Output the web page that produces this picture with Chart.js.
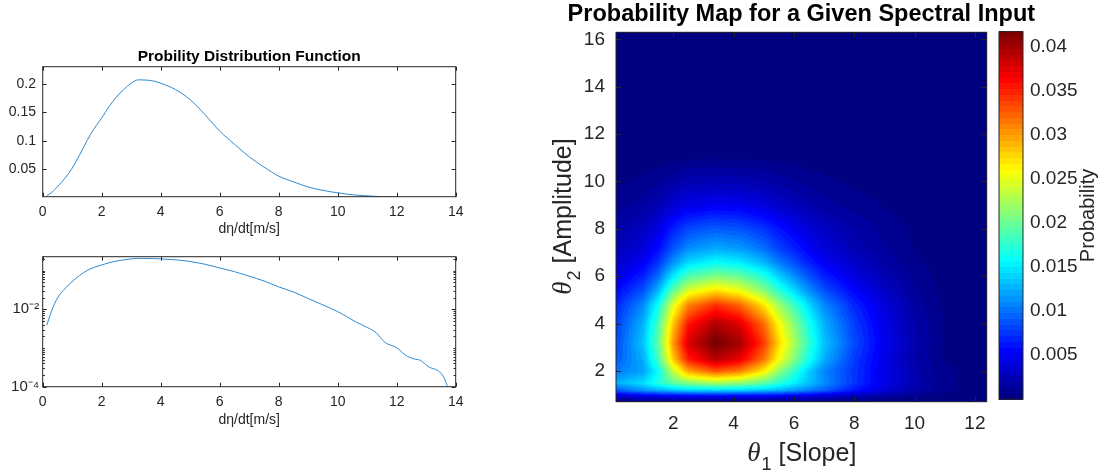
<!DOCTYPE html>
<html>
<head>
<meta charset="utf-8">
<script src="https://cdn.jsdelivr.net/npm/chart.js@4.4.0/dist/chart.umd.min.js"></script>
<style>
  body { margin: 0; background: #fff; width: 1114px; height: 473px; overflow: hidden; position: relative; }
  canvas { position: absolute; }
</style>
</head>
<body>
<canvas id="pdfChart" width="498" height="245" style="left:0;top:0"></canvas>
<canvas id="logChart" width="498" height="233" style="left:0;top:240px"></canvas>
<canvas id="mapChart" width="563" height="473" style="left:520px;top:0"></canvas>
<canvas id="barChart" width="124" height="473" style="left:990px;top:0"></canvas>
<script>
// PDF of d(eta)/dt
const pdfSpeed = [0.14, 0.3, 0.5, 0.75, 1.0, 1.25, 1.5, 1.75, 2.0, 2.25, 2.5, 2.75, 3.0, 3.25, 3.5, 3.75, 4.0, 4.5, 5.0, 5.5, 6.0, 6.5, 7.0, 7.5, 8.0, 8.5, 9.0, 9.5, 10.0, 10.3, 10.6, 11.0, 11.3, 11.6, 12.0, 12.3, 12.6, 12.8, 13.1, 13.4, 13.6, 13.72];
const pdfValues = [0.0039, 0.009, 0.0195, 0.034, 0.052, 0.075, 0.100, 0.122, 0.140, 0.160, 0.177, 0.190, 0.201, 0.207, 0.2065, 0.205, 0.201, 0.190, 0.172, 0.146, 0.117, 0.094, 0.072, 0.054, 0.038, 0.028, 0.019, 0.013, 0.0087, 0.0065, 0.0048, 0.0034, 0.0025, 0.0014, 0.00102, 0.00065, 0.00052, 0.00048, 0.00032, 0.00026, 0.000174, 0.0001];
const pdfXTicks = [0, 2, 4, 6, 8, 10, 12, 14];
const pdfYTicks = [0.05, 0.1, 0.15, 0.2];
const logYTicks = [1e-4, 1e-2];
const logYTickLabels = ['10⁻⁴', '10⁻²'];

// probability map: rows = theta2 (amplitude), columns = theta1 (slope)
const thetaSlope = [0.1, 1, 1.5, 2, 2.5, 3.4, 4.2, 5, 5.5, 6, 6.5, 7, 8, 9, 10, 11, 12.4];
const thetaAmp = [0.7, 0.95, 1.2, 1.5, 2, 2.5, 3.2, 4, 4.8, 5.4, 6, 6.6, 7.2, 8, 9, 10, 11, 12.5, 16.3];
const probMap = [
  [0.0001, 0.0002, 0.0002, 0.0003, 0.0003, 0.0003, 0.0003, 0.0003, 0.0003, 0.0003, 0.0003, 0.0002, 0.0002, 0.0001, 0.0001, 0, 0],
  [0.0035, 0.0042, 0.0045, 0.0048, 0.0050, 0.0050, 0.0050, 0.0048, 0.0046, 0.0043, 0.0039, 0.0034, 0.0024, 0.0015, 0.0008, 0.0003, 0.0001],
  [0.0090, 0.0115, 0.0125, 0.0135, 0.0140, 0.0143, 0.0140, 0.0135, 0.0128, 0.0118, 0.0106, 0.0093, 0.0062, 0.0038, 0.0020, 0.0008, 0.0002],
  [0.0125, 0.0145, 0.0170, 0.0195, 0.0210, 0.0223, 0.0215, 0.0195, 0.0173, 0.0153, 0.0132, 0.0112, 0.0075, 0.0045, 0.0022, 0.0008, 0.0002],
  [0.0104, 0.0120, 0.0160, 0.0236, 0.0295, 0.0328, 0.0311, 0.0266, 0.0216, 0.0177, 0.0138, 0.0108, 0.0075, 0.0045, 0.0022, 0.0008, 0.0002],
  [0.0090, 0.0125, 0.0184, 0.0281, 0.0352, 0.0391, 0.0371, 0.0316, 0.0258, 0.0211, 0.0164, 0.0125, 0.0078, 0.0045, 0.0020, 0.0006, 0.0001],
  [0.0084, 0.0134, 0.0197, 0.0302, 0.0378, 0.0420, 0.0399, 0.0340, 0.0277, 0.0227, 0.0176, 0.0134, 0.0084, 0.0048, 0.0021, 0.0006, 0.0001],
  [0.0079, 0.0126, 0.0186, 0.0284, 0.0355, 0.0395, 0.0375, 0.0320, 0.0261, 0.0213, 0.0166, 0.0126, 0.0079, 0.0045, 0.0020, 0.0006, 0.0001],
  [0.0069, 0.0110, 0.0162, 0.0248, 0.0310, 0.0344, 0.0322, 0.0270, 0.0220, 0.0182, 0.0143, 0.0110, 0.0069, 0.0040, 0.0017, 0.0005, 0],
  [0.0055, 0.0087, 0.0128, 0.0197, 0.0246, 0.0273, 0.0255, 0.0213, 0.0174, 0.0144, 0.0113, 0.0087, 0.0055, 0.0031, 0.0014, 0.0004, 0],
  [0.0042, 0.0067, 0.0099, 0.0151, 0.0189, 0.0210, 0.0200, 0.0170, 0.0139, 0.0113, 0.0088, 0.0067, 0.0042, 0.0024, 0.0011, 0.0003, 0],
  [0.0032, 0.0050, 0.0074, 0.0113, 0.0142, 0.0158, 0.0150, 0.0128, 0.0104, 0.0085, 0.0066, 0.0050, 0.0032, 0.0018, 0.0008, 0.0002, 0],
  [0.0024, 0.0039, 0.0057, 0.0088, 0.0110, 0.0122, 0.0116, 0.0099, 0.0080, 0.0066, 0.0051, 0.0039, 0.0024, 0.0014, 0.0006, 0.0002, 0],
  [0.0019, 0.0030, 0.0043, 0.0067, 0.0083, 0.0092, 0.0088, 0.0075, 0.0061, 0.0050, 0.0039, 0.0030, 0.0019, 0.0011, 0.0005, 0.0001, 0],
  [0.0010, 0.0016, 0.0024, 0.0036, 0.0045, 0.0050, 0.0048, 0.0041, 0.0033, 0.0027, 0.0021, 0.0016, 0.0010, 0.0006, 0.0003, 0.0001, 0],
  [0.0005, 0.0008, 0.0012, 0.0018, 0.0023, 0.0025, 0.0024, 0.0020, 0.0017, 0.0014, 0.0011, 0.0008, 0.0005, 0.0003, 0.0001, 0, 0],
  [0.0001, 0.0002, 0.0003, 0.0004, 0.0005, 0.0006, 0.0005, 0.0005, 0.0004, 0.0003, 0.0002, 0.0002, 0.0001, 0, 0, 0, 0],
  [0, 0, 0, 0.0001, 0.0001, 0.0001, 0.0001, 0.0001, 0.0001, 0, 0, 0, 0, 0, 0, 0, 0],
  [0, 0, 0, 0, 0, 0, 0, 0, 0, 0, 0, 0, 0, 0, 0, 0, 0]
];
const mapXTicks = [2, 4, 6, 8, 10, 12];
const mapYTicks = [2, 4, 6, 8, 10, 12, 14, 16];
const colorbarTicks = [0.005, 0.01, 0.015, 0.02, 0.025, 0.03, 0.035, 0.04];
const colorRange = [0, 0.0417];

const FONT = '"Liberation Sans", Arial, Helvetica, sans-serif';
Chart.defaults.font.family = FONT;
Chart.defaults.color = '#262626';
Chart.defaults.animation = false;

function fixTicks(values) {
    return function(scale) {
        scale.ticks = values.map(v => ({ value: v }));
    };
}

// matlab jet, 64 levels
function jet(t) {
    let k = Math.max(0, Math.min(63, Math.floor(t * 64)));
    let u = k / 63;
    let c = v => Math.round(255 * Math.max(0, Math.min(1, v)));
    return [c(1.5 - Math.abs(4 * u - 3)), c(1.5 - Math.abs(4 * u - 2)), c(1.5 - Math.abs(4 * u - 1))];
}

function locate(arr, v) {
    if (v <= arr[0]) return [0, 0];
    for (let i = 0; i < arr.length - 1; i++) {
        if (v <= arr[i + 1]) return [i, (v - arr[i]) / (arr[i + 1] - arr[i])];
    }
    return [arr.length - 2, 1];
}

// box round the axes with inward ticks on all four sides
const boxPlugin = {
    id: 'matlabBox',
    afterDatasetsDraw(chart, args, opts) {
        let ctx = chart.ctx, a = chart.chartArea;
        let L = opts.tickLen || 4;
        ctx.save();
        ctx.strokeStyle = '#262626';
        ctx.lineWidth = 1;
        ctx.beginPath();
        if (opts.xTicks !== false) {
            chart.scales.x.ticks.forEach(t => {
                let p = Math.round(chart.scales.x.getPixelForValue(t.value)) + 0.5;
                ctx.moveTo(p, a.bottom); ctx.lineTo(p, a.bottom - L);
                ctx.moveTo(p, a.top); ctx.lineTo(p, a.top + L);
            });
        }
        if (opts.yTicks !== false) {
            let ys = chart.scales.y.ticks.map(t => [t.value, L]);
            (opts.minorY || []).forEach(v => ys.push([v, L * 0.55]));
            ys.forEach(([v, l]) => {
                let p = Math.round(chart.scales.y.getPixelForValue(v)) + 0.5;
                ctx.moveTo(a.left, p); ctx.lineTo(a.left + l, p);
                ctx.moveTo(a.right, p); ctx.lineTo(a.right - l, p);
            });
        }
        ctx.stroke();
        ctx.strokeRect(a.left, a.top, a.width, a.height);
        ctx.restore();
    }
};

// title centred over the axes box
const titlePlugin = {
    id: 'panelTitle',
    afterDraw(chart, args, opts) {
        let ctx = chart.ctx, a = chart.chartArea;
        ctx.save();
        ctx.font = 'bold ' + opts.size + 'px ' + FONT;
        ctx.fillStyle = '#000';
        ctx.textAlign = 'center';
        ctx.textBaseline = 'middle';
        ctx.fillText(opts.text, (a.left + a.right) / 2, opts.y);
        ctx.restore();
    }
};

const heatmapPlugin = {
    id: 'heatmap',
    beforeDatasetsDraw(chart) {
        let ctx = chart.ctx, a = chart.chartArea;
        let xs = chart.scales.x, ys = chart.scales.y;
        let w = Math.round(a.width), h = Math.round(a.height);
        let off = document.createElement('canvas');
        off.width = w; off.height = h;
        let octx = off.getContext('2d');
        let img = octx.createImageData(w, h);
        let cols = [];
        for (let c = 0; c < w; c++) cols.push(locate(thetaSlope, xs.getValueForPixel(a.left + c + 0.5)));
        for (let r = 0; r < h; r++) {
            let [j, fy] = locate(thetaAmp, ys.getValueForPixel(a.top + r + 0.5));
            let row0 = probMap[j], row1 = probMap[j + 1];
            for (let c = 0; c < w; c++) {
                let [i, fx] = cols[c];
                let v0 = row0[i] * (1 - fx) + row0[i + 1] * fx;
                let v1 = row1[i] * (1 - fx) + row1[i + 1] * fx;
                let v = v0 * (1 - fy) + v1 * fy;
                let rgb = jet((v - colorRange[0]) / (colorRange[1] - colorRange[0]));
                let k = (r * w + c) * 4;
                img.data[k] = rgb[0]; img.data[k + 1] = rgb[1]; img.data[k + 2] = rgb[2]; img.data[k + 3] = 255;
            }
        }
        octx.putImageData(img, 0, 0);
        ctx.drawImage(off, a.left, a.top, a.width, a.height);
    }
};

function drawThetaLabel(ctx, sub, rest, cx, cy, rotate) {
    ctx.save();
    ctx.translate(cx, cy);
    if (rotate) ctx.rotate(-Math.PI / 2);
    ctx.fillStyle = '#262626';
    ctx.textBaseline = 'alphabetic';
    ctx.textAlign = 'left';
    let fT = 'italic 27px "Liberation Serif", serif';
    let fS = '18px ' + FONT;
    let fR = '25px ' + FONT;
    ctx.font = fT; let wT = ctx.measureText('θ').width;
    ctx.font = fS; let wS = ctx.measureText(sub).width;
    ctx.font = fR; let wR = ctx.measureText(rest).width;
    let x = -(wT + wS + wR) / 2, base = 9;
    ctx.font = fT; ctx.fillText('θ', x, base);
    ctx.font = fS; ctx.fillText(sub, x + wT + 1, base + 9);
    ctx.font = fR; ctx.fillText(rest, x + wT + wS + 1, base);
    ctx.restore();
}

const mapLabelPlugin = {
    id: 'mapLabels',
    afterDraw(chart) {
        let a = chart.chartArea;
        drawThetaLabel(chart.ctx, '1', ' [Slope]', (a.left + a.right) / 2, 452, false);
        drawThetaLabel(chart.ctx, '2', ' [Amplitude]', 42, (a.top + a.bottom) / 2, true);
    }
};

const colorbarPlugin = {
    id: 'colorbar',
    beforeDatasetsDraw(chart) {
        let ctx = chart.ctx, a = chart.chartArea, y = chart.scales.y;
        for (let r = Math.floor(a.top); r < Math.ceil(a.bottom); r++) {
            let v = y.getValueForPixel(r + 0.5);
            let rgb = jet((v - colorRange[0]) / (colorRange[1] - colorRange[0]));
            ctx.fillStyle = 'rgb(' + rgb.join(',') + ')';
            ctx.fillRect(a.left, r, a.width, 1);
        }
    },
    afterDraw(chart) {
        let ctx = chart.ctx;
        ctx.save();
        ctx.translate(98, (chart.chartArea.top + chart.chartArea.bottom) / 2);
        ctx.rotate(-Math.PI / 2);
        ctx.font = '20px ' + FONT;
        ctx.fillStyle = '#262626';
        ctx.textAlign = 'center';
        ctx.textBaseline = 'middle';
        ctx.fillText('Probability', 0, 0);
        ctx.restore();
    }
};

const pdfPoints = pdfSpeed.map((x, i) => ({ x: x, y: pdfValues[i] }));

function lineDataset() {
    return {
        data: pdfPoints,
        borderColor: '#2f8ad0',
        borderWidth: 1,
        pointRadius: 0,
        cubicInterpolationMode: 'monotone'
    };
}

const noGrid = { display: false, drawTicks: false };

function xAxis(height, titlePad) {
    return {
        type: 'linear', min: 0, max: 14,
        afterBuildTicks: fixTicks(pdfXTicks),
        afterFit: s => { s.height = height; },
        grid: noGrid, border: { display: false },
        ticks: { padding: 6.6, font: { size: 14 }, color: '#262626', maxRotation: 0 },
        title: { display: true, text: 'dη/dt[m/s]', font: { size: 14 }, color: '#262626', padding: { top: 0, bottom: titlePad } }
    };
}

// top left: linear pdf
new Chart(document.getElementById('pdfChart'), {
    type: 'line',
    data: { datasets: [lineDataset()] },
    plugins: [boxPlugin, titlePlugin],
    options: {
        responsive: false,
        layout: { padding: { top: 66.7, right: 42.3, bottom: 0, left: 0 } },
        plugins: {
            legend: { display: false },
            tooltip: { enabled: false },
            matlabBox: { tickLen: 4 },
            panelTitle: { text: 'Probility Distribution Function', size: 15.5, y: 56.7 }
        },
        scales: {
            x: xAxis(48.3, 7.1),
            y: {
                type: 'linear', min: 0.0019, max: 0.23,
                afterBuildTicks: fixTicks(pdfYTicks),
                afterFit: s => { s.width = 42.7; },
                grid: noGrid, border: { display: false },
                ticks: { padding: 6.7, font: { size: 14 }, color: '#262626', callback: v => String(v) }
            }
        }
    }
});

// bottom left: same pdf on log axis
let logMinor = [];
[1e-4, 1e-3, 1e-2, 1e-1].forEach(d => { for (let m = 2; m <= 9; m++) if (m * d < 0.229) logMinor.push(m * d); });
logMinor.push(1e-3, 1e-1);

new Chart(document.getElementById('logChart'), {
    type: 'line',
    data: { datasets: [lineDataset()] },
    plugins: [boxPlugin],
    options: {
        responsive: false,
        layout: { padding: { top: 16.7, right: 42.3, bottom: 0, left: 0 } },
        plugins: {
            legend: { display: false },
            tooltip: { enabled: false },
            matlabBox: { tickLen: 4, minorY: logMinor }
        },
        scales: {
            x: xAxis(86.3, 44.6),
            y: {
                type: 'logarithmic', min: 1e-4, max: 0.229,
                afterBuildTicks: fixTicks(logYTicks),
                afterFit: s => { s.width = 42.7; },
                grid: noGrid, border: { display: false },
                ticks: { padding: 3.5, font: { size: 15 }, color: '#262626', callback: (v, i) => logYTickLabels[i] }
            }
        }
    }
});

// right: probability map
new Chart(document.getElementById('mapChart'), {
    type: 'scatter',
    data: { datasets: [] },
    plugins: [heatmapPlugin, boxPlugin, mapLabelPlugin, titlePlugin],
    options: {
        responsive: false,
        layout: { padding: { top: 32.3, right: 96.3, bottom: 0, left: 0 } },
        plugins: {
            legend: { display: false },
            tooltip: { enabled: false },
            matlabBox: { tickLen: 5 },
            panelTitle: { text: 'Probability Map for a Given Spectral Input', size: 23.5, y: 15 }
        },
        scales: {
            x: {
                type: 'linear', min: 0.1, max: 12.39,
                afterBuildTicks: fixTicks(mapXTicks),
                afterFit: s => { s.height = 71.3; },
                grid: noGrid, border: { display: false },
                ticks: { padding: 10.2, font: { size: 19 }, color: '#262626', maxRotation: 0, callback: v => String(v) }
            },
            y: {
                type: 'linear', min: 0.7, max: 16.3,
                afterBuildTicks: fixTicks(mapYTicks),
                afterFit: s => { s.width = 96; },
                grid: noGrid, border: { display: false },
                ticks: { padding: 11, font: { size: 19 }, color: '#262626', callback: v => String(v) }
            }
        }
    }
});

// colorbar
new Chart(document.getElementById('barChart'), {
    type: 'scatter',
    data: { datasets: [] },
    plugins: [colorbarPlugin, boxPlugin],
    options: {
        responsive: false,
        layout: { padding: { top: 31.7, right: 0, bottom: 73.7, left: 9 } },
        plugins: {
            legend: { display: false },
            tooltip: { enabled: false },
            matlabBox: { xTicks: false, yTicks: false }
        },
        scales: {
            x: { type: 'linear', display: false, min: 0, max: 1 },
            y: {
                type: 'linear', position: 'right', min: colorRange[0], max: colorRange[1],
                afterBuildTicks: fixTicks(colorbarTicks),
                afterFit: s => { s.width = 91; },
                grid: noGrid, border: { display: false },
                ticks: { padding: 7, font: { size: 19 }, color: '#262626', callback: v => String(v) }
            }
        }
    }
});
</script>
</body>
</html>
